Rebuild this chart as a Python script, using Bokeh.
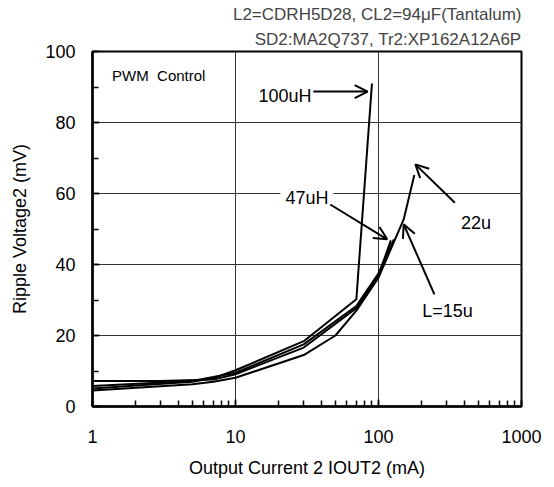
from bokeh.plotting import figure
from bokeh.models import (Range1d, SingleIntervalTicker, Arrow, OpenHead, Label,
                          Title, CustomJSTickFormatter, LogTicker)
from bokeh.embed import file_html
from bokeh.resources import INLINE

FONT = "Liberation Sans"

# ---- data ----
x_100uH = [1, 5, 7, 10, 30, 70, 90]
y_100uH = [5.1, 7.0, 8.0, 10.2, 18.4, 30.2, 91.0]

x_47uH = [1, 5, 7, 10, 30, 70, 100, 128]
y_47uH = [5.8, 7.2, 8.3, 9.5, 17.5, 28.3, 37.5, 47.1]

x_15u = [1, 3, 7, 10, 30, 70, 100, 122]
y_15u = [7.2, 7.2, 7.6, 9.1, 16.6, 27.7, 37.0, 46.8]

x_22u = [1, 5, 7, 10, 30, 50, 70, 100, 150, 178]
y_22u = [4.5, 6.3, 7.0, 8.1, 14.5, 20.0, 27.0, 36.3, 52.7, 65.2]

title_line1 = "L2=CDRH5D28, CL2=94\u03bcF(Tantalum)"
title_line2 = "SD2:MA2Q737, Tr2:XP162A12A6P"
x_label = "Output Current 2 IOUT2 (mA)"
y_label = "Ripple Voltage2 (mV)"
note = "PWM\u00a0\u00a0Control"

# label texts and anchor points (data units)
lab_text = ["100uH", "47uH", "22u", "L=15u"]
lab_x = [14.5, 20.6, 378.0, 202.0]
lab_y = [87.5, 58.6, 51.6, 26.9]

# arrows: start -> end (data units)
arr_x0 = [35.0, 46.0, 342.0, 246.0]
arr_y0 = [88.7, 56.9, 57.4, 31.6]
arr_x1 = [84.0, 115.0, 181.0, 150.0]
arr_y1 = [88.7, 47.1, 68.2, 51.3]

FS = "18px"

p = figure(width=546, height=480, x_axis_type="log",
           x_range=Range1d(1, 1000), y_range=Range1d(0, 100),
           output_backend="svg", toolbar_location=None, title=None,
           min_border_left=92, min_border_right=25,
           min_border_top=51, min_border_bottom=0)

p.add_layout(Title(text=title_line2, align="right", text_font=FONT,
                   text_font_size="17px", text_font_style="normal",
                   standoff=5, offset=0), "above")
p.add_layout(Title(text=title_line1, align="right", text_font=FONT,
                   text_font_size="17px", text_font_style="normal",
                   standoff=4, offset=0), "above")

p.outline_line_color = "black"
p.outline_line_width = 2
p.background_fill_color = "white"
p.border_fill_color = "white"

for xs, ys in [(x_100uH, y_100uH), (x_47uH, y_47uH), (x_15u, y_15u), (x_22u, y_22u)]:
    p.line(xs, ys, line_color="black", line_width=2)

# axes
xa = p.xaxis[0]
xa.ticker = LogTicker(num_minor_ticks=10)
xa.formatter = CustomJSTickFormatter(code="return tick.toFixed(0);")
ya = p.yaxis[0]
ya.ticker = SingleIntervalTicker(interval=20, num_minor_ticks=2)

for ax in (xa, ya):
    ax.axis_line_color = "black"
    ax.axis_line_width = 2.5
    ax.major_tick_in = 7
    ax.major_tick_out = 0
    ax.minor_tick_in = 6
    ax.minor_tick_out = 0
    ax.major_tick_line_width = 1.5
    ax.minor_tick_line_width = 1.5
    ax.major_tick_line_color = "black"
    ax.minor_tick_line_color = "black"
    ax.major_label_text_font = FONT
    ax.major_label_text_font_size = FS
    ax.major_label_text_color = "black"
    ax.axis_label_text_font = FONT
    ax.axis_label_text_font_size = FS
    ax.axis_label_text_font_style = "normal"
    ax.axis_label_text_color = "black"

xa.axis_label = x_label
ya.axis_label = y_label
xa.major_label_standoff = 23
ya.major_label_standoff = 17
xa.axis_label_standoff = 12
ya.axis_label_standoff = 12

p.xgrid.grid_line_color = "#333333"
p.ygrid.grid_line_color = "#333333"
p.xgrid.grid_line_width = 1
p.ygrid.grid_line_width = 1

# annotations
p.add_layout(Label(x=1.37, y=93.1, text=note, text_font=FONT, text_font_size="15px",
                   text_baseline="middle", text_color="black"))

for t, lx, ly in zip(lab_text, lab_x, lab_y):
    kw = {}
    if t == "47uH":
        kw = dict(background_fill_color="white", padding=5)
    p.add_layout(Label(x=lx, y=ly, text=t, text_font=FONT, text_font_size=FS,
                       text_baseline="middle", text_color="black", **kw))

for x0, y0, x1, y1 in zip(arr_x0, arr_y0, arr_x1, arr_y1):
    p.add_layout(Arrow(end=OpenHead(size=13, line_width=2, line_color="black"),
                       x_start=x0, y_start=y0, x_end=x1, y_end=y1,
                       line_width=2, line_color="black"))

open("out.html", "w").write(file_html(p, INLINE))
